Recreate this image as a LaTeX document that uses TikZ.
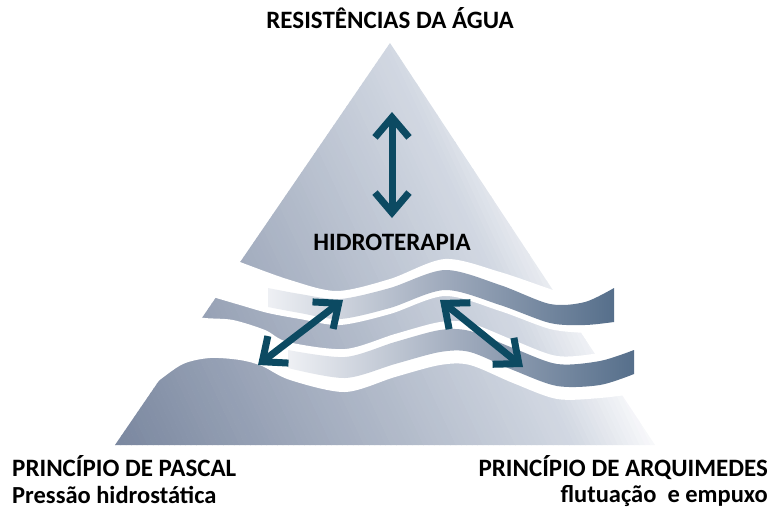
\documentclass[tikz,border=0pt]{standalone}
\usepackage{fontspec}
\setmainfont{Carlito}
\usetikzlibrary{arrows.meta}

\definecolor{arrowteal}{RGB}{12,74,98}
\definecolor{slatedark}{RGB}{123,136,160}
\definecolor{slatemid}{RGB}{211,217,227}
\definecolor{slatelight}{RGB}{250,250,252}
\definecolor{ribbonlight}{RGB}{238,240,244}
\definecolor{ribbonmid}{RGB}{160,171,189}
\definecolor{ribbondark}{RGB}{86,111,139}

\begin{document}
\begin{tikzpicture}[x=1pt,y=-1pt,
  caption/.style={font=\bfseries\fontsize{25}{29}\selectfont, text=black, inner sep=0pt},
  subcaption/.style={font=\bfseries\fontsize{24.5}{28}\selectfont, text=black, inner sep=0pt},
  link/.style={draw=arrowteal, line width=7pt,
    {Straight Barb[length=20pt,width=34pt]}-{Straight Barb[length=20pt,width=34pt]}},
  ribbon/.style={left color=ribbonlight, right color=ribbondark, middle color=ribbonmid}]
\useasboundingbox (0,0) rectangle (772,509);

% pyramid body, filled with a tilted gradient built from thin strips
\coordinate (apex) at (390,43);
\coordinate (baseL) at (115,445);
\coordinate (baseR) at (655,445);
\begin{scope}
  \clip (apex) -- (baseR) -- (baseL) -- cycle;
  \begin{scope}[shift={(baseL)}, rotate=25]
    \fill[slatedark] (-200,-700) rectangle (0.5,700);
    \foreach \i in {0,...,84} {
      \pgfmathtruncatemacro{\p}{100*\i/85}
      \fill[slatemid!\p!slatedark] ({4.9*\i},-700) rectangle ({4.9*\i+5.4},700);
    }
    \foreach \i in {85,...,99} {
      \pgfmathtruncatemacro{\p}{100*(\i-85)/15}
      \fill[slatelight!\p!slatemid] ({4.9*\i},-700) rectangle ({4.9*\i+5.4},700);
    }
    \fill[slatelight] (490,-700) rectangle (800,700);
  \end{scope}
\end{scope}

% upper white cut (below the tip of the pyramid)
\fill[white] plot[smooth] coordinates {(215,252) (240,262) (290,280) (337,291) (390,279) (445,259) (500,272) (553,290) (580,298)}
  -- plot[smooth] coordinates {(640,330) (600,334) (585,333) (550,329) (500,311) (445,296) (390,314) (340,325) (300,319) (268,313) (240,305) (213,297) (195,291)}
  -- cycle;

% lower white cut (above the base hill)
\fill[white] plot[smooth] coordinates {(180,314) (205,318) (233,320) (265,330) (288,342) (345,349) (395,334) (440,322) (470,323) (513,340) (557,356) (600,353) (650,343)}
  -- plot[smooth] coordinates {(680,387) (640,393) (600,398) (557,399) (513,383) (470,365) (440,365) (395,377) (345,392) (290,380) (262,366) (240,360) (210,358) (183,364) (157,382) (145,392)}
  -- cycle;

% upper wave ribbon
\shade[ribbon] plot[smooth] coordinates {(268,288) (300,294) (340,299) (390,288) (445,270) (500,285) (550,304) (585,302) (614,288)}
  -- plot[smooth] coordinates {(614,322) (585,325) (550,323) (500,305) (445,290) (390,308) (340,319) (300,313) (268,307)}
  -- cycle;

% lower wave ribbon
\shade[ribbon] plot[smooth] coordinates {(288,350) (345,357) (395,342) (440,330) (470,331) (513,348) (557,364) (600,361) (634,350)}
  -- plot[smooth] coordinates {(634,374) (600,385) (557,386) (513,370) (470,352) (440,352) (395,364) (345,378) (288,368)}
  -- cycle;

% double arrows
\coordinate (upT) at (392,112);
\coordinate (upB) at (392,218);
\coordinate (lfT) at (343,300);
\coordinate (lfB) at (258,365);
\coordinate (rtT) at (440,300);
\coordinate (rtB) at (523,367);
\draw[link] (upT) -- (upB);
\draw[link] (lfT) -- (lfB);
\draw[link] (rtT) -- (rtB);

% labels
\node[caption, anchor=base] (top) at (390,28) {RESISTÊNCIAS DA ÁGUA};
\node[caption, anchor=base] (mid) at (392,250) {HIDROTERAPIA};
\node[caption, anchor=base west] (pascal) at (12,476) {PRINCÍPIO DE PASCAL};
\node[subcaption, anchor=base west] (pressao) at (12,503) {Pressão hidrostática};
\node[caption, anchor=base east] (arqui) at (768,476) {PRINCÍPIO DE ARQUIMEDES};
\node[subcaption, anchor=base east] (flut) at (768,502) {flutuação\ \ e empuxo};
\end{tikzpicture}
\end{document}
